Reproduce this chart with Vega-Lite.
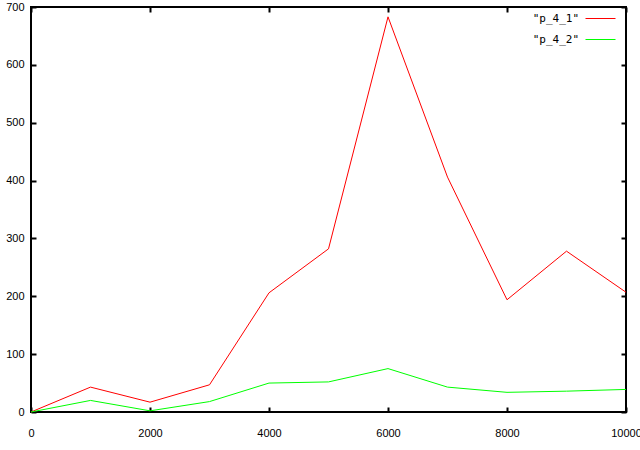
{
  "$schema": "https://vega.github.io/schema/vega-lite/v6.json",
  "width": 595,
  "height": 405,
  "autosize": {"type": "none"},
  "padding": {"left": 31, "top": 7, "right": 14, "bottom": 38},
  "background": "white",
  "config": {
    "view": {"stroke": "black", "strokeWidth": 2},
    "axis": {
      "grid": false,
      "domain": false,
      "tickColor": "black",
      "tickWidth": 2,
      "tickSize": 5,
      "offset": -5,
      "labelFont": "Liberation Sans",
      "labelFontSize": 11,
      "labelColor": "black",
      "title": null
    }
  },
  "data": {
    "values": [
      {"x": 0, "value": 0, "series": "\"p_4_1\""},
      {"x": 1000, "value": 43, "series": "\"p_4_1\""},
      {"x": 2000, "value": 17, "series": "\"p_4_1\""},
      {"x": 3000, "value": 47, "series": "\"p_4_1\""},
      {"x": 4000, "value": 206, "series": "\"p_4_1\""},
      {"x": 5000, "value": 282, "series": "\"p_4_1\""},
      {"x": 6000, "value": 683, "series": "\"p_4_1\""},
      {"x": 7000, "value": 406, "series": "\"p_4_1\""},
      {"x": 8000, "value": 194, "series": "\"p_4_1\""},
      {"x": 9000, "value": 278, "series": "\"p_4_1\""},
      {"x": 10000, "value": 207, "series": "\"p_4_1\""},
      {"x": 0, "value": 0, "series": "\"p_4_2\""},
      {"x": 1000, "value": 20, "series": "\"p_4_2\""},
      {"x": 2000, "value": 2, "series": "\"p_4_2\""},
      {"x": 3000, "value": 18, "series": "\"p_4_2\""},
      {"x": 4000, "value": 50, "series": "\"p_4_2\""},
      {"x": 5000, "value": 52, "series": "\"p_4_2\""},
      {"x": 6000, "value": 75, "series": "\"p_4_2\""},
      {"x": 7000, "value": 43, "series": "\"p_4_2\""},
      {"x": 8000, "value": 34, "series": "\"p_4_2\""},
      {"x": 9000, "value": 36, "series": "\"p_4_2\""},
      {"x": 10000, "value": 39, "series": "\"p_4_2\""}
    ]
  },
  "resolve": {"axis": {"x": "independent", "y": "independent"}},
  "layer": [
    {
      "mark": {"type": "line", "strokeWidth": 1, "interpolate": "linear"},
      "encoding": {
        "x": {"field": "x", "type": "quantitative", "scale": {"domain": [0, 10000], "nice": false, "zero": false},
              "axis": {"orient": "bottom", "values": [0, 2000, 4000, 6000, 8000, 10000], "format": "d", "labelPadding": 15, "labelFlush": false}},
        "y": {"field": "value", "type": "quantitative", "scale": {"domain": [0, 700], "nice": false},
              "axis": {"orient": "left", "values": [0, 100, 200, 300, 400, 500, 600, 700], "format": "d", "labelPadding": 7}},
        "color": {"field": "series", "type": "nominal",
                  "scale": {"domain": ["\"p_4_1\"", "\"p_4_2\""], "range": ["#ff0000", "#00ff00"]},
                  "legend": {
                    "title": null,
                    "orient": "none",
                    "legendX": 554,
                    "legendY": -4,
                    "padding": 0,
                    "symbolType": "stroke",
                    "symbolSize": 900,
                    "symbolStrokeWidth": 1,
                    "labelFont": "DejaVu Sans Mono",
                    "labelFontSize": 11,
                    "labelColor": "black",
                    "labelAlign": "right",
                    "labelOffset": -37,
                    "rowPadding": -10
                  }}
      }
    },
    {
      "mark": {"type": "line", "opacity": 0},
      "encoding": {
        "x": {"field": "x", "type": "quantitative",
              "axis": {"orient": "top", "values": [0, 2000, 4000, 6000, 8000, 10000], "labels": false}},
        "y": {"field": "value", "type": "quantitative",
              "axis": {"orient": "right", "values": [0, 100, 200, 300, 400, 500, 600, 700], "labels": false}},
        "detail": {"field": "series", "type": "nominal"}
      }
    }
  ]
}
